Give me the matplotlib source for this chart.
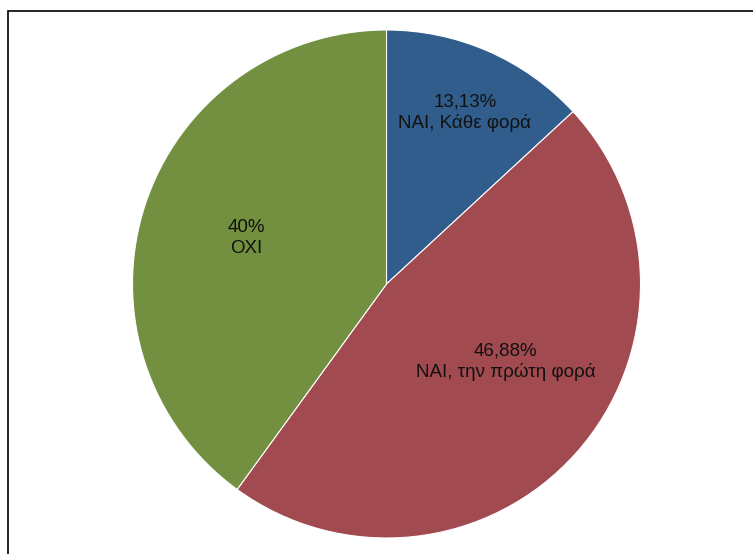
import matplotlib
matplotlib.use("Agg")
import matplotlib.pyplot as plt
from matplotlib.patches import Rectangle

labels = ["ΝΑΙ, Κάθε φορά", "ΝΑΙ, την πρώτη φορά", "ΟΧΙ"]
values = [13.13, 46.88, 40.0]
pct_text = ["13,13%", "46,88%", "40%"]
colors = ["#305D8C", "#A14A50", "#72903F"]
label_pos = [(0.309, 0.675), (0.47, -0.307), (-0.553, 0.181)]

plt.rcParams['font.family'] = ['Liberation Sans', 'DejaVu Sans']

W, H = 753, 554
fig = plt.figure(figsize=(W / 100, H / 100), dpi=100)
fig.patch.set_facecolor("white")

# outer frame
fig.patches.append(Rectangle((7.5 / W, -0.05), 1.2, 1 - 10.5 / H + 0.05,
                             transform=fig.transFigure, fill=False,
                             edgecolor="black", linewidth=1.2))

cx, cy, r = 386.5, 284, 254
ax = fig.add_axes([(cx - r) / W, (H - cy - r) / H, 2 * r / W, 2 * r / H])
ax.pie(values, colors=colors, startangle=90, counterclock=False, radius=1,
       wedgeprops=dict(edgecolor="white", linewidth=0.8))
ax.set_xlim(-1, 1)
ax.set_ylim(-1, 1)
ax.set_aspect("equal")
ax.axis("off")

for (x, y), p, lab in zip(label_pos, pct_text, labels):
    ax.text(x, y, p + "\n" + lab, ha="center", va="center", fontsize=13.5,
            color="#111111", linespacing=1.25)

fig.savefig("out.png", dpi=100)
